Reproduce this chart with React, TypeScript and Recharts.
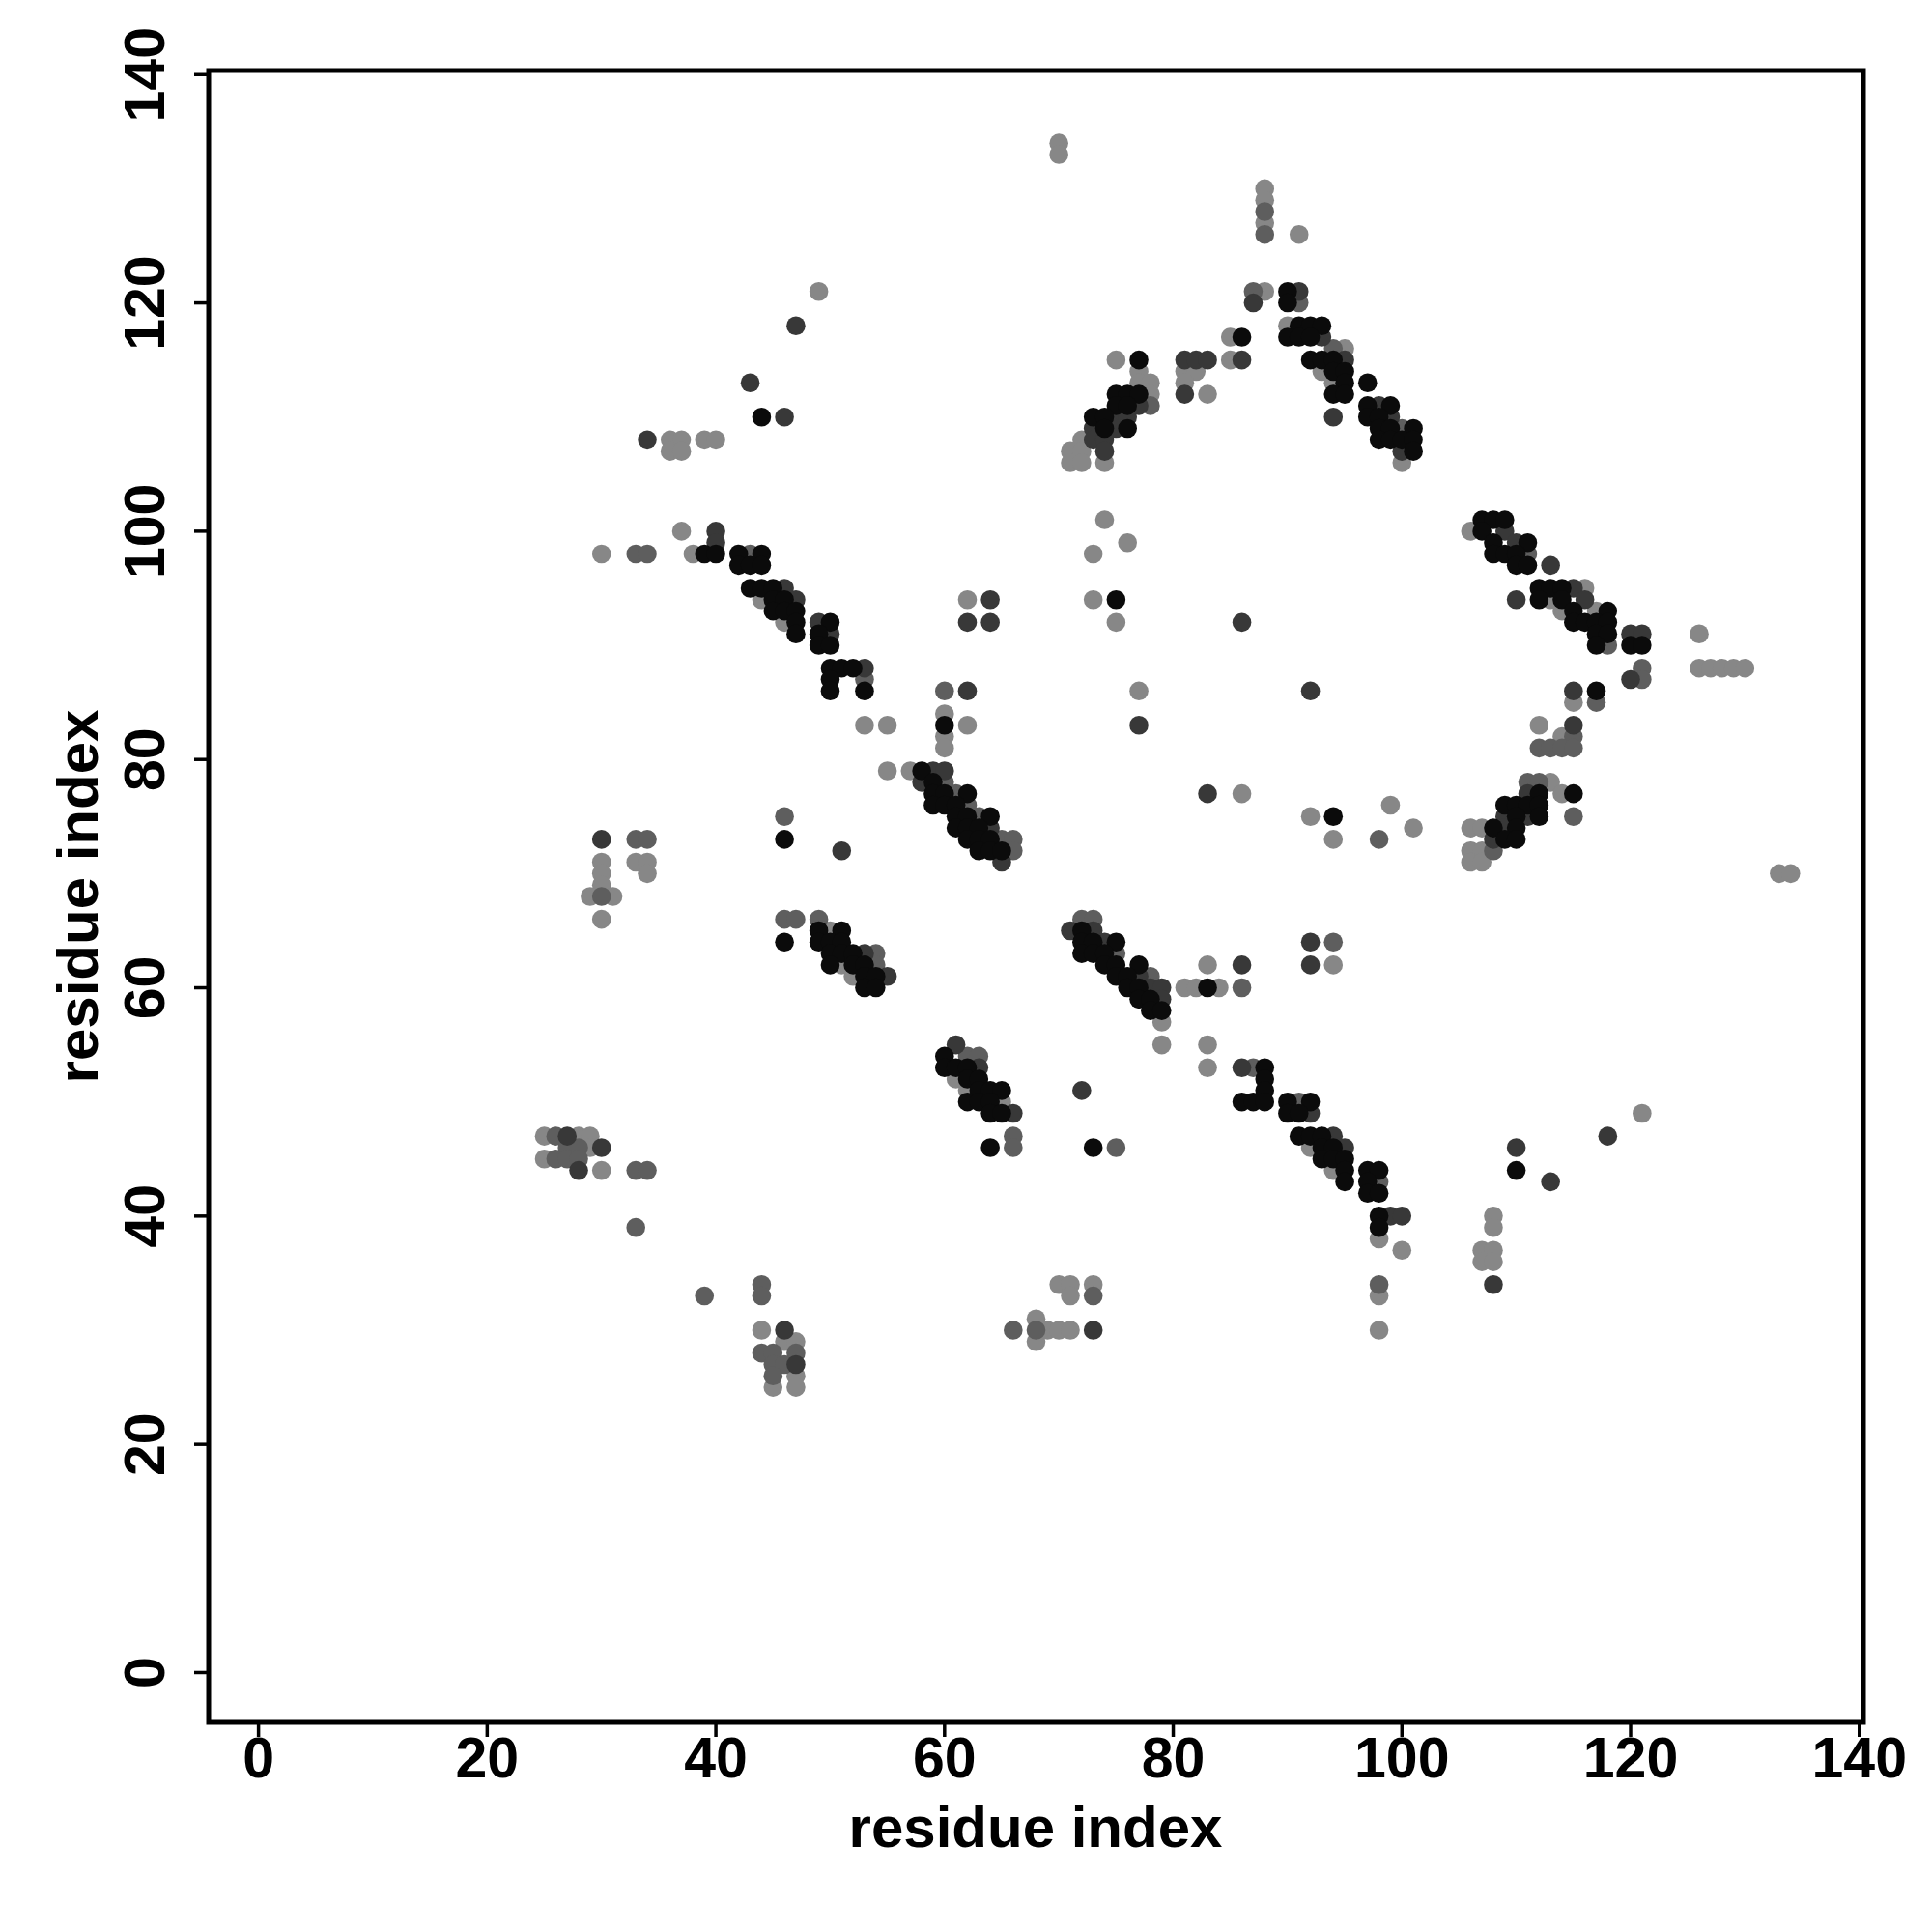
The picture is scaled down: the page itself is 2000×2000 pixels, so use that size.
import React from "react";
import { ReferenceArea, Scatter, ScatterChart, XAxis, YAxis } from "recharts";

// contact pairs (residue i, residue j), grouped by shade
const blackPairs: [number, number][] = [
  [44, 110],
  [39, 98], [40, 98], [42, 98], [44, 98], [42, 97], [43, 97], [44, 97], [43, 95], [44, 95], [45, 95], [45, 94], [46, 94],
  [45, 93], [46, 93], [47, 93], [47, 92], [50, 92], [47, 91], [49, 91], [49, 90], [50, 90], [50, 88], [51, 88], [52, 88],
  [50, 87], [50, 86], [53, 86],
  [75, 94], [60, 83],
  [58, 79], [59, 78], [59, 77], [60, 77], [62, 77], [59, 76], [60, 76], [61, 76], [61, 75], [62, 75], [64, 75], [61, 74],
  [62, 74], [63, 74], [62, 73], [63, 73], [64, 73], [63, 72], [64, 72], [65, 72],
  [46, 73],
  [49, 65], [51, 65], [46, 64], [49, 64], [50, 64], [51, 64], [50, 63], [51, 63], [52, 63], [50, 62], [52, 62], [53, 62],
  [53, 61], [54, 61], [53, 60], [54, 60],
  [60, 54], [60, 53], [61, 53], [62, 53], [62, 52], [63, 52], [63, 51], [64, 51], [65, 51], [62, 50], [63, 50], [64, 50],
  [64, 49], [65, 49], [64, 46],
  [73, 46],
  [72, 65], [72, 64], [73, 64], [75, 64], [72, 63], [73, 63], [74, 63], [74, 62], [75, 62], [77, 62], [75, 61], [76, 61],
  [76, 60], [77, 60], [77, 59], [78, 59], [78, 58], [79, 58],
  [83, 60],
  [88, 53], [88, 52], [88, 51], [86, 50], [87, 50], [88, 50], [90, 50], [92, 50], [90, 49], [91, 49], [91, 47], [92, 47],
  [93, 47], [93, 46], [94, 46], [93, 45], [94, 45], [95, 45], [95, 44], [97, 44], [98, 44], [95, 43], [97, 43], [97, 42],
  [98, 42], [98, 40], [98, 39],
  [110, 44],
  [90, 121], [90, 120], [91, 118], [92, 118], [93, 118], [86, 117], [90, 117], [91, 117], [92, 117], [92, 115], [93, 115],
  [94, 115], [94, 114], [95, 114], [95, 113], [97, 113], [94, 112], [95, 112], [97, 111], [99, 111], [97, 110], [98, 110],
  [98, 109], [99, 109], [101, 109], [98, 108], [99, 108], [100, 108], [101, 108], [101, 107],
  [77, 115], [75, 112], [76, 112], [77, 112], [75, 111], [76, 111], [73, 110], [74, 110], [74, 109], [76, 109],
  [107, 101], [108, 101], [109, 101], [107, 100], [108, 99], [111, 99], [108, 98], [109, 98], [110, 98], [110, 97],
  [111, 97], [112, 95], [113, 95], [114, 95], [112, 94], [114, 94], [115, 93], [118, 93], [115, 92], [116, 92], [117, 92],
  [118, 92], [117, 91], [118, 91], [117, 90], [120, 90], [121, 90],
  [117, 86], [112, 77], [115, 77], [109, 76], [110, 76], [111, 76], [112, 76], [110, 75], [112, 75], [108, 74], [110, 74],
  [109, 73], [110, 73],
  [94, 75],
];

const darkPairs: [number, number][] = [
  [47, 118], [43, 113], [46, 110], [34, 108], [40, 100], [40, 99],
  [49, 92], [50, 91], [46, 95], [47, 94], [53, 88],
  [64, 94], [62, 92], [64, 92], [62, 86], [77, 83],
  [59, 79], [60, 79], [58, 78], [64, 74], [65, 71],
  [51, 72], [30, 73],
  [53, 63], [55, 61],
  [61, 55], [63, 53], [66, 49],
  [72, 51],
  [71, 65], [73, 65], [74, 64], [77, 61], [78, 60], [79, 60], [79, 59],
  [86, 62], [92, 64], [92, 62],
  [86, 53], [92, 49], [94, 47], [95, 46], [99, 40], [100, 40],
  [108, 34], [118, 47], [110, 46], [113, 43],
  [27, 47], [30, 46], [28, 44], [46, 30], [47, 27], [73, 30],
  [91, 121], [87, 120], [93, 117], [86, 115], [95, 115], [98, 111], [94, 110], [99, 110], [100, 107],
  [81, 115], [82, 115], [83, 115], [81, 112], [75, 110], [76, 110], [73, 109], [75, 109], [73, 108], [74, 108], [74, 107],
  [77, 111],
  [109, 100], [110, 99], [113, 97], [115, 95], [110, 94], [116, 94], [120, 91], [121, 91], [120, 87],
  [115, 86], [115, 83], [111, 77], [109, 75], [111, 75], [109, 74], [108, 73],
  [86, 92], [92, 86], [83, 77],
];

const midPairs: [number, number][] = [
  [33, 98], [34, 98], [43, 98], [53, 87], [60, 86],
  [60, 78], [61, 77], [62, 76], [63, 75], [65, 73], [66, 73], [66, 72],
  [46, 75], [33, 73], [34, 73], [30, 68],
  [46, 66], [47, 66], [49, 66], [54, 63], [54, 62],
  [62, 54], [63, 54], [66, 47], [66, 46],
  [75, 46],
  [72, 66], [73, 66], [75, 63], [78, 61],
  [86, 60],
  [87, 53], [91, 50], [98, 43],
  [94, 64],
  [98, 34], [98, 73],
  [26, 47], [27, 46], [28, 46], [26, 45], [27, 45], [28, 45], [33, 44], [34, 44], [33, 39], [39, 33], [44, 34], [44, 33],
  [44, 28], [45, 28], [47, 28], [45, 27], [46, 27], [45, 26],
  [73, 33], [66, 30], [68, 30],
  [88, 128], [88, 126],
  [87, 121], [91, 120], [94, 116], [100, 109],
  [78, 111],
  [118, 90], [121, 88], [121, 87], [111, 98],
  [117, 85], [115, 82], [112, 81], [113, 81], [114, 81], [115, 81], [111, 78], [112, 78], [115, 75], [108, 72],
];

const greyPairs: [number, number][] = [
  [49, 121], [36, 108], [37, 108], [36, 107], [37, 107], [39, 108], [40, 108], [37, 100], [30, 98], [38, 98],
  [44, 94], [46, 92],
  [62, 94], [73, 94], [75, 92], [53, 83], [55, 83], [60, 84], [60, 82], [60, 81], [62, 83], [77, 86], [74, 101], [76, 99],
  [73, 98],
  [55, 79], [57, 79],
  [30, 71], [30, 70], [30, 69], [29, 68], [31, 68], [30, 66], [33, 71], [34, 71], [34, 70],
  [50, 65], [51, 62], [52, 61],
  [61, 52], [62, 51], [65, 50],
  [79, 57], [79, 55],
  [81, 60], [82, 60], [84, 60], [83, 62], [83, 55], [83, 53], [94, 62],
  [92, 46], [94, 44], [98, 38], [100, 37],
  [98, 33], [98, 30], [108, 40], [108, 39], [107, 37], [108, 37], [107, 36], [108, 36], [121, 49],
  [25, 47], [28, 47], [29, 47], [29, 46], [25, 45], [30, 44], [44, 30], [46, 29], [47, 29], [47, 26], [45, 25], [47, 25],
  [70, 34], [71, 34], [71, 33], [73, 34], [68, 31], [68, 29], [69, 30], [70, 30], [71, 30],
  [70, 134], [70, 133], [88, 130], [88, 129], [88, 127], [91, 126],
  [88, 121], [90, 118], [85, 117], [95, 116], [85, 115], [93, 114], [94, 113], [100, 106],
  [75, 115], [77, 114], [81, 114], [82, 114], [77, 113], [78, 113], [81, 113], [78, 112], [83, 112], [72, 108], [71, 107],
  [72, 107], [71, 106], [72, 106], [74, 106],
  [106, 100], [113, 94], [116, 95], [114, 93], [117, 93], [126, 91], [126, 88], [127, 88], [128, 88], [129, 88], [130, 88],
  [115, 85], [112, 83], [114, 82], [113, 78], [114, 77], [106, 74], [107, 74], [106, 72], [107, 72], [106, 71], [107, 71],
  [92, 75], [94, 73], [99, 76], [101, 74], [86, 77], [133, 70], [134, 70],
];

const axisTicks = [0, 20, 40, 60, 80, 100, 120, 140];
const axisTitle = "residue index";

const FONT = '"Liberation Sans", Arial, Helvetica, sans-serif';
const DOMAIN: [number, number] = [-4.36, 140.36];

const toPoints = (pairs: [number, number][]) => pairs.map(([x, y]) => ({ x, y }));

const dot = (fill: string) => (props: any) => <circle cx={props.cx} cy={props.cy} r={9.8} fill={fill} />;

function XTick(props: any) {
  const { x, y, payload } = props;
  return (
    <text x={x} y={y} dy="0.71em" textAnchor="middle" fontFamily={FONT} fontSize={59} fontWeight={700} fill="#000">
      {payload.value}
    </text>
  );
}

function YTick(props: any) {
  const { x, y, payload } = props;
  const bx = x - 31;
  return (
    <text
      x={bx}
      y={y}
      transform={`rotate(-90 ${bx} ${y})`}
      textAnchor="middle"
      fontFamily={FONT}
      fontSize={59}
      fontWeight={700}
      fill="#000"
    >
      {payload.value}
    </text>
  );
}

function XTitle() {
  return (
    <text x={1072} y={1912} textAnchor="middle" fontFamily={FONT} fontSize={60} fontWeight={700} fill="#000">
      {axisTitle}
    </text>
  );
}

function YTitle() {
  return (
    <text
      x={101}
      y={928}
      transform="rotate(-90 101 928)"
      textAnchor="middle"
      fontFamily={FONT}
      fontSize={60}
      fontWeight={700}
      fill="#000"
    >
      {axisTitle}
    </text>
  );
}

export default function App() {
  return (
    <div style={{ position: "absolute", left: 0, top: 0, width: 2000, height: 2000, background: "#fff" }}>
      <ScatterChart width={2000} height={2000} margin={{ top: 73, right: 71, bottom: 0, left: 0 }}>
        <XAxis
          dataKey="x"
          type="number"
          domain={DOMAIN}
          ticks={axisTicks}
          interval={0}
          allowDataOverflow
          height={217}
          axisLine={false}
          tickSize={15}
          tickMargin={0}
          tickLine={{ stroke: "#000", strokeWidth: 3.5 }}
          tick={<XTick />}
          label={<XTitle />}
        />
        <YAxis
          dataKey="y"
          type="number"
          domain={DOMAIN}
          ticks={axisTicks}
          interval={0}
          allowDataOverflow
          width={216}
          axisLine={false}
          tickSize={15}
          tickMargin={0}
          tickLine={{ stroke: "#000", strokeWidth: 3.5 }}
          tick={<YTick />}
          label={<YTitle />}
        />
        <Scatter data={toPoints(greyPairs)} shape={dot("#878787")} isAnimationActive={false} />
        <Scatter data={toPoints(midPairs)} shape={dot("#5e5e5e")} isAnimationActive={false} />
        <Scatter data={toPoints(darkPairs)} shape={dot("#383838")} isAnimationActive={false} />
        <Scatter data={toPoints(blackPairs)} shape={dot("#0b0b0b")} isAnimationActive={false} />
        <ReferenceArea
          x1={DOMAIN[0]}
          x2={DOMAIN[1]}
          y1={DOMAIN[0]}
          y2={DOMAIN[1]}
          fill="none"
          stroke="#000"
          strokeWidth={5}
          ifOverflow="visible"
        />
      </ScatterChart>
    </div>
  );
}
